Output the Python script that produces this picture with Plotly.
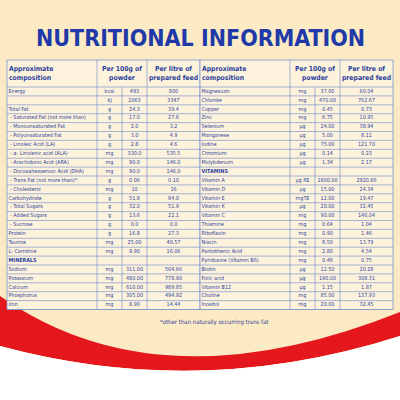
import plotly.graph_objects as go

left_names = ["Energy", "", "Total Fat", " - Saturated Fat (not more than)", " - Monounsaturated Fat",
 " - Polyunsaturated Fat", " - Linoleic Acid (LA)", " - α- Linolenic acid (ALA)", " - Arachidonic Acid (ARA)",
 " - Docosahexaenoic Acid (DHA)", " - Trans Fat (not more than)*", " - Cholesterol", "Carbohydrate",
 " - Total Sugars", " - Added Sugars", " - Sucrose", "Protein", "Taurine", "L- Carnitine", "<b>MINERALS</b>",
 "Sodium", "Potassium", "Calcium", "Phosphorus", "Iron"]
left_units = ["kcal", "kJ", "g", "g", "g", "g", "g", "mg", "mg", "mg", "g", "mg", "g", "g", "g", "g", "g",
 "mg", "mg", "", "mg", "mg", "mg", "mg", "mg"]
left_100g = ["493", "2063", "24.3", "17.0", "2.0", "3.0", "2.8", "330.0", "90.0", "90.0", "0.06", "10", "51.8",
 "32.0", "13.6", "0.0", "16.8", "25.00", "9.90", "", "311.00", "480.00", "610.00", "305.00", "8.90"]
left_litre = ["800", "3347", "39.4", "27.6", "3.2", "4.9", "4.6", "535.5", "146.0", "146.0", "0.10", "16", "84.0",
 "51.9", "22.1", "0.0", "27.3", "40.57", "16.06", "", "504.66", "778.90", "989.85", "494.92", "14.44"]

right_names = ["Magnesium", "Chloride", "Copper", "Zinc", "Selenium", "Manganese", "Iodine", "Chromium",
 "Molybdenum", "<b>VITAMINS</b>", "Vitamin A", "Vitamin D", "Vitamin E", "Vitamin K", "Vitamin C", "Thiamine",
 "Riboflavin", "Niacin", "Pantothenic Acid", "Pyridoxine (Vitamin B6)", "Biotin", "Folic acid", "Vitamin B12",
 "Choline", "Inositol"]
right_units = ["mg", "mg", "mg", "mg", "µg", "µg", "µg", "µg", "µg", "", "µg RE", "µg", "mgTE", "µg", "mg", "mg",
 "mg", "mg", "mg", "mg", "µg", "µg", "µg", "mg", "mg"]
right_100g = ["37.00", "470.00", "0.45", "6.75", "24.00", "5.00", "75.00", "0.14", "1.34", "", "1800.00", "15.00",
 "12.00", "20.00", "90.00", "0.64", "0.90", "8.50", "2.80", "0.46", "12.50", "190.00", "1.15", "85.00", "20.00"]
right_litre = ["60.04", "762.67", "0.73", "10.95", "38.94", "8.11", "121.70", "0.23", "2.17", "", "2920.86", "24.34",
 "19.47", "32.45", "146.04", "1.04", "1.46", "13.79", "4.54", "0.75", "20.28", "308.31", "1.87", "137.93", "32.45"]

header_cols = ["<b>Approximate<br>composition</b>", "<b>Per 100g of<br>powder</b>", "<b>Per litre of<br>prepared feed</b>"]

BLUE = "#2b3f9e"
LINE = "#7f95cf"
COND = "DejaVu Sans Condensed"
W, H = 400, 400
TOP, HEAD, ROWH = 60, 27, 8.9

fig = go.Figure()
shapes = [
    dict(type="path", xref="paper", yref="paper", layer="below", line_width=0, fillcolor="#e3171c",
         path="M 0,0.26 Q 0.4,-0.02 1,0.22 L 1,0.16 Q 0.5,0.0 0,0.135 Z"),
    dict(type="path", xref="paper", yref="paper", layer="below", line_width=0, fillcolor="white",
         path="M 0,0.135 Q 0.5,0.0 1,0.16 L 1,0 L 0,0 Z"),
]

def add_table(names, units, g100, litre, x0):
    n = len(names)
    cols = [x0, x0 + 90, x0 + 115, x0 + 140, x0 + 193]
    y_body = TOP + HEAD
    y_end = y_body + n * ROWH
    shapes.append(dict(type="rect", xref="x", yref="y", x0=cols[0], x1=cols[-1], y0=TOP, y1=y_end,
                       fillcolor="#fdf3dc", line=dict(color=LINE, width=0.8), layer="below"))
    for i in range(n + 1):
        y = y_body + i * ROWH
        shapes.append(dict(type="line", xref="x", yref="y", x0=cols[0], x1=cols[-1], y0=y, y1=y,
                           line=dict(color=LINE, width=0.7)))
    for j, c in enumerate(cols[1:-1]):
        shapes.append(dict(type="line", xref="x", yref="y", x0=c, x1=c,
                           y0=y_body if j == 1 else TOP, y1=y_end, line=dict(color=LINE, width=0.7)))
    ys = [y_body + (i + 0.5) * ROWH for i in range(n)]
    font = dict(family=COND, size=5.4, color=BLUE)
    fig.add_trace(go.Scatter(x=[cols[0] + 1.5] * n, y=ys, text=names, mode="text",
                             textposition="middle right", textfont=font, hoverinfo="skip"))
    for col_vals, cx in ((units, (cols[1] + cols[2]) / 2), (g100, (cols[2] + cols[3]) / 2),
                         (litre, (cols[3] + cols[4]) / 2)):
        fig.add_trace(go.Scatter(x=[cx] * n, y=ys, text=col_vals, mode="text",
                                 textposition="middle center", textfont=font, hoverinfo="skip"))
    hy = TOP + HEAD / 2
    fig.add_trace(go.Scatter(x=[cols[0] + 2, (cols[1] + cols[3]) / 2, (cols[3] + cols[4]) / 2], y=[hy] * 3,
                             text=header_cols, mode="text",
                             textposition=["middle right", "middle center", "middle center"],
                             textfont=dict(family=COND, size=6.8, color=BLUE), hoverinfo="skip"))

add_table(left_names, left_units, left_100g, left_litre, 7)
add_table(right_names, right_units, right_100g, right_litre, 200)

fig.update_layout(
    width=W, height=H, margin=dict(l=0, r=0, t=0, b=0), showlegend=False,
    paper_bgcolor="#fbeac4", plot_bgcolor="rgba(0,0,0,0)", shapes=shapes,
    xaxis=dict(visible=False, range=[0, W]), yaxis=dict(visible=False, range=[H, 0]),
    annotations=[
        dict(text="<b>NUTRITIONAL INFORMATION</b>", x=0.5, y=1 - 23 / H, xref="paper", yref="paper",
             showarrow=False, font=dict(family=COND, size=23, color="#1f3aa8")),
        dict(text="*other than naturally occurring trans fat", x=0.675, y=1 - 328 / H, xref="paper",
             yref="paper", showarrow=False, font=dict(family=COND, size=6, color=BLUE)),
    ],
)
fig.write_html("out.html", config={"displayModeBar": False},
               post_script="document.body.style.margin='0';document.body.style.overflow='hidden';")
